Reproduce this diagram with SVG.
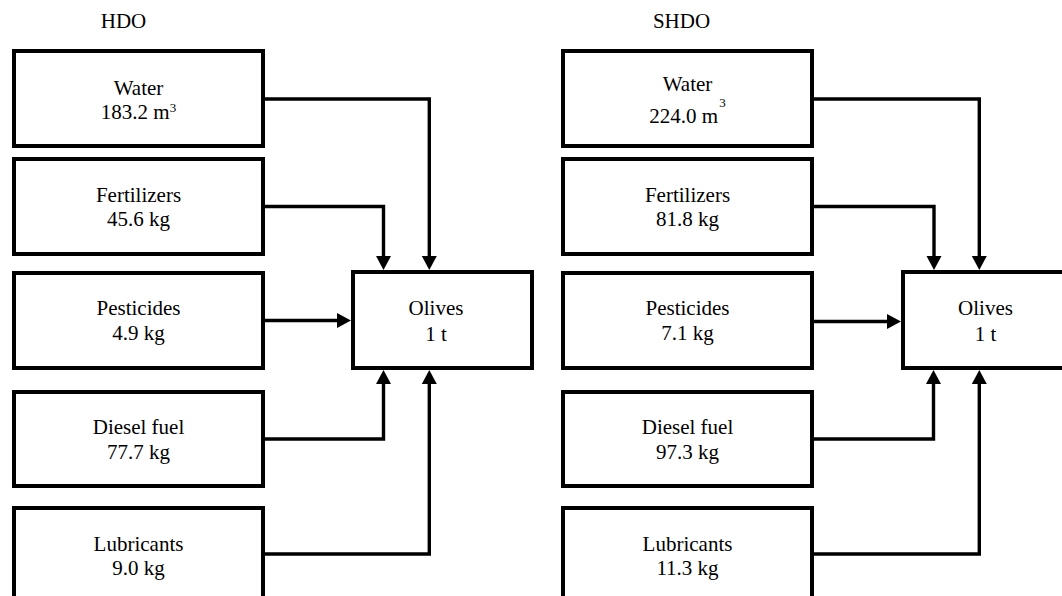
<svg xmlns="http://www.w3.org/2000/svg" width="1062" height="596" viewBox="0 0 1062 596">
<style>
  .box{fill:#fff;stroke:#000;stroke-width:4}
  .t{font-size:21px;fill:#000;text-anchor:middle}
  .sup{font-size:13px}
  .c{fill:none;stroke:#000;stroke-width:3.4;stroke-linejoin:miter}
</style>
<defs>
  <marker id="ah" markerUnits="userSpaceOnUse" markerWidth="15" markerHeight="15" refX="0" refY="7.5" orient="auto" overflow="visible">
    <path d="M0,0 L14,7.5 L0,15 Z" fill="#000"/>
  </marker>
</defs>
<rect width="1062" height="596" fill="#fff"/>

<g font-family="Liberation Serif, Times New Roman, DejaVu Serif, serif">
<text class="t" x="123.5" y="28">HDO</text>
<text class="t" x="681.5" y="28">SHDO</text>

<g id="connectors">
  <path class="c" d="M263,99 H429.3 V256" marker-end="url(#ah)"/>
  <path class="c" d="M263,206.5 H383.5 V256" marker-end="url(#ah)"/>
  <path class="c" d="M263,320.5 H337" marker-end="url(#ah)"/>
  <path class="c" d="M263,439 H383.5 V384" marker-end="url(#ah)"/>
  <path class="c" d="M263,554 H429.3 V384" marker-end="url(#ah)"/>

  <path class="c" d="M812,99 H979.3 V256" marker-end="url(#ah)"/>
  <path class="c" d="M812,206.5 H934 V256" marker-end="url(#ah)"/>
  <path class="c" d="M812,321.5 H887" marker-end="url(#ah)"/>
  <path class="c" d="M812,439 H933.5 V384" marker-end="url(#ah)"/>
  <path class="c" d="M812,554 H979.3 V384" marker-end="url(#ah)"/>
</g>

<g id="hdo-water"><rect class="box" x="14" y="51" width="249" height="95"/>
  <text class="t" x="138.5" y="95">Water</text>
  <text class="t" x="138.5" y="119">183.2 m<tspan class="sup" dy="-7">3</tspan></text></g>
<g id="hdo-fertilizers"><rect class="box" x="14" y="159" width="249" height="95"/>
  <text class="t" x="138.5" y="202">Fertilizers</text>
  <text class="t" x="138.5" y="226">45.6 kg</text></g>
<g id="hdo-pesticides"><rect class="box" x="14" y="273" width="249" height="95"/>
  <text class="t" x="138.5" y="315">Pesticides</text>
  <text class="t" x="138.5" y="340">4.9 kg</text></g>
<g id="hdo-diesel"><rect class="box" x="14" y="392" width="249" height="94"/>
  <text class="t" x="138.5" y="434">Diesel fuel</text>
  <text class="t" x="138.5" y="459">77.7 kg</text></g>
<g id="hdo-lubricants"><rect class="box" x="14" y="508" width="249" height="100"/>
  <text class="t" x="138.5" y="551">Lubricants</text>
  <text class="t" x="138.5" y="575">9.0 kg</text></g>
<g id="hdo-olives"><rect class="box" x="353" y="272" width="179" height="96"/>
  <text class="t" x="436" y="315">Olives</text>
  <text class="t" x="436" y="341">1 t</text></g>

<g id="shdo-water"><rect class="box" x="563" y="51" width="249" height="95"/>
  <text class="t" x="687.5" y="91">Water</text>
  <text class="t" x="687.5" y="123">224.0 m<tspan class="sup" dx="1" dy="-16">3</tspan></text></g>
<g id="shdo-fertilizers"><rect class="box" x="563" y="159" width="249" height="95"/>
  <text class="t" x="687.5" y="202">Fertilizers</text>
  <text class="t" x="687.5" y="226">81.8 kg</text></g>
<g id="shdo-pesticides"><rect class="box" x="563" y="273" width="249" height="95"/>
  <text class="t" x="687.5" y="315">Pesticides</text>
  <text class="t" x="687.5" y="340">7.1 kg</text></g>
<g id="shdo-diesel"><rect class="box" x="563" y="392" width="249" height="94"/>
  <text class="t" x="687.5" y="434">Diesel fuel</text>
  <text class="t" x="687.5" y="459">97.3 kg</text></g>
<g id="shdo-lubricants"><rect class="box" x="563" y="508" width="249" height="100"/>
  <text class="t" x="687.5" y="551">Lubricants</text>
  <text class="t" x="687.5" y="575">11.3 kg</text></g>
<g id="shdo-olives"><rect class="box" x="903" y="272" width="200" height="96"/>
  <text class="t" x="985.5" y="315">Olives</text>
  <text class="t" x="985.5" y="341">1 t</text></g>
</g>
</svg>
